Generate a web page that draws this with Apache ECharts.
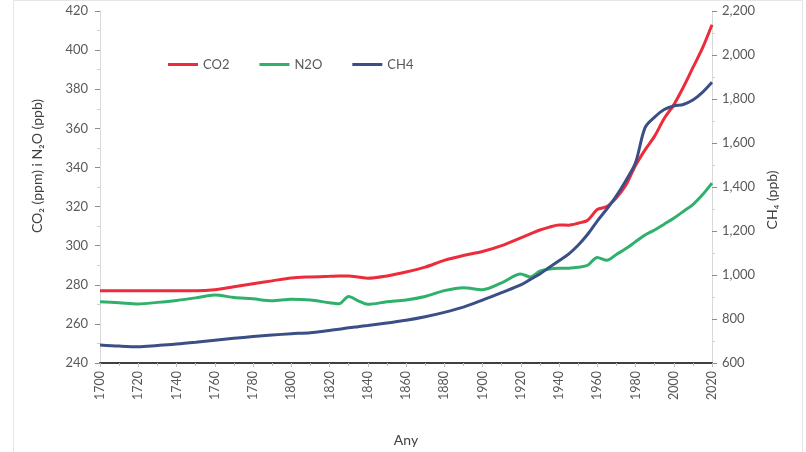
<!DOCTYPE html>
<html><head><meta charset="utf-8">
<script src="https://cdn.jsdelivr.net/npm/echarts@6/dist/echarts.min.js"></script>
<style>html,body{margin:0;padding:0;background:#fff}#c{width:806px;height:452px}</style>
</head><body><div id="c"></div>
<script>
const years = [1700,1710,1720,1730,1740,1750,1760,1770,1780,1790,1800,1810,1820,1825,1830,1835,1840,1850,1860,1870,1880,1890,1900,1910,1920,1925,1930,1935,1940,1945,1950,1955,1960,1965,1970,1975,1980,1985,1990,1995,2000,2005,2010,2015,2020];
const co2 = [277,277,277,277,277,277,277.5,279,280.5,282,283.5,284,284.3,284.5,284.5,284,283.3,284.5,286.5,289,292.5,295,297,300,304,306,308,309.5,310.6,310.5,311.5,313,318.5,320,324.5,331,341,349,356,365,372,381,391,401,413];
const n2o = [271.3,270.8,270.2,271,272,273.3,274.8,273.5,272.8,271.8,272.6,272.2,270.8,270.3,274,271.8,270,271.3,272.2,274,277,278.5,277.5,281,285.5,284,287,288,288.4,288.5,289,290,294,292.5,295.5,298.5,302,305.5,308,311,314,317.5,321,326,332];
const ch4 = [682,677,674,680,686,694,703,712,720,727,733,738,748,753,760,765,770,782,794,810,830,854,886,920,955,980,1005,1035,1065,1095,1135,1185,1245,1300,1360,1430,1510,1670,1718,1752,1768,1775,1795,1830,1876];
const seriesNames = ['CO2','N2O','CH4'];
const colors = ['#ec2b3b','#2fb16c','#3b4f86'];
const leftTicks = {min:240,max:420,step:20};
const rightTicks = {min:600,max:2200,step:200};
const xTicks = {min:1700,max:2020,step:20};

const pair = arr => years.map((y,i)=>[y,arr[i]]);
const txt = '#595959';
const font = 'Lato, "Open Sans", sans-serif';
const chart = echarts.init(document.getElementById('c'));
chart.setOption({
  animation:false,
  backgroundColor:'#fff',
  grid:{left:100,right:94,top:11,bottom:89},
  legend:{
    left:163, top:53, itemWidth:30, itemHeight:3, itemGap:30,
    textStyle:{color:txt,fontSize:13,fontFamily:font},
    data:seriesNames.map((n,i)=>({name:n,icon:'rect'}))
  },
  xAxis:{
    type:'value', min:xTicks.min, max:xTicks.max, interval:xTicks.step,
    name:'Any', nameLocation:'middle', nameGap:70,
    nameTextStyle:{color:'#404040',fontSize:14,fontFamily:font},
    axisLine:{lineStyle:{color:'#404040',width:2}},
    axisTick:{show:true,inside:false,length:4,lineStyle:{color:'#bfbfbf'}},
    minorTick:{show:true,splitNumber:2,length:3,lineStyle:{color:'#bfbfbf'}},
    axisLabel:{rotate:90,color:txt,fontSize:12.5,fontFamily:font,margin:8,formatter:v=>String(v)},
    splitLine:{show:false}
  },
  yAxis:[{
    type:'value', min:leftTicks.min, max:leftTicks.max, interval:leftTicks.step,
    axisLine:{show:true,lineStyle:{color:'#d9d9d9'}},
    axisTick:{show:true,length:5,lineStyle:{color:'#8c8c8c'}},
    minorTick:{show:true,splitNumber:2,length:3,lineStyle:{color:'#d0d0d0'}},
    axisLabel:{color:txt,fontSize:13,fontFamily:font,margin:12},
    splitLine:{show:false}
  },{
    type:'value', min:rightTicks.min, max:rightTicks.max, interval:rightTicks.step,
    position:'right',
    axisLine:{show:true,lineStyle:{color:'#d9d9d9'}},
    axisTick:{show:true,length:5,lineStyle:{color:'#8c8c8c'}},
    minorTick:{show:true,splitNumber:2,length:3,lineStyle:{color:'#d0d0d0'}},
    axisLabel:{color:txt,fontSize:13,fontFamily:font,margin:10,
      formatter:v=>v.toLocaleString('en-US')},
    splitLine:{show:false}
  }],
  graphic:[
    {type:'rect',left:11,top:-2,shape:{width:789,height:460},style:{fill:'none',stroke:'#e6e6e6',lineWidth:1},silent:true},
    {type:'text',x:37,y:166,rotation:Math.PI/2,
      style:{text:'CO₂ (ppm) i N₂O (ppb)',fill:'#404040',font:'14px '+font,align:'center',verticalAlign:'middle'}},
    {type:'text',x:772,y:200,rotation:Math.PI/2,
      style:{text:'CH₄ (ppb)',fill:'#404040',font:'14px '+font,align:'center',verticalAlign:'middle'}}
  ],
  series:[
    {name:seriesNames[0],type:'line',data:pair(co2),yAxisIndex:0,smooth:0.3,symbol:'none',
      lineStyle:{width:3,color:colors[0]},itemStyle:{color:colors[0]},z:3},
    {name:seriesNames[1],type:'line',data:pair(n2o),yAxisIndex:0,smooth:0.3,symbol:'none',
      lineStyle:{width:3,color:colors[1]},itemStyle:{color:colors[1]},z:2},
    {name:seriesNames[2],type:'line',data:pair(ch4),yAxisIndex:1,smooth:0.3,symbol:'none',
      lineStyle:{width:3,color:colors[2]},itemStyle:{color:colors[2]},z:4}
  ]
});
</script></body></html>
